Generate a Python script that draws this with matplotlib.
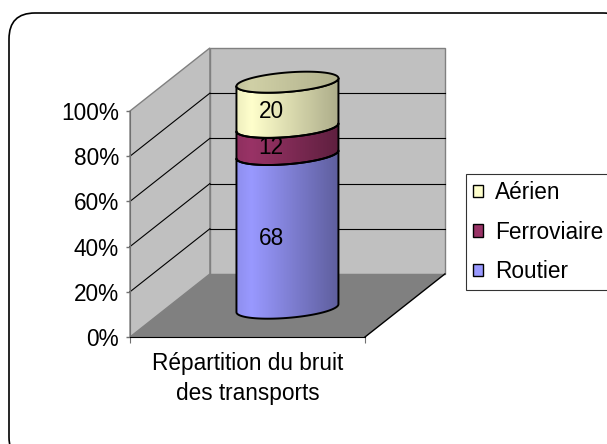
import numpy as np
import matplotlib
matplotlib.use("Agg")
import matplotlib.pyplot as plt
from matplotlib.patches import Polygon, Rectangle, FancyBboxPatch
from matplotlib.ticker import FuncFormatter
from matplotlib.colors import to_rgb

plt.rcParams['font.family'] = ['Liberation Sans', 'DejaVu Sans']

# data
category = "Répartition du bruit\ndes transports"
series = ['Routier', 'Ferroviaire', 'Aérien']
values = [68, 12, 20]
colors = ['#9999ff', '#993366', '#ffffcc']
yticks = [0, 20, 40, 60, 80, 100]

FS = 16.3

fig = plt.figure(figsize=(6.07, 4.44), dpi=100)

# background with rounded frame (pixel coords)
bg = fig.add_axes([0, 0, 1, 1])
bg.set_xlim(0, 607)
bg.set_ylim(444, 0)
bg.axis('off')
bg.add_patch(FancyBboxPatch((9, 13), 620, 450,
                            boxstyle="round,pad=0,rounding_size=26",
                            fc='white', ec='black', lw=1.2))

# main axes: front plane of the 3d box
ax = fig.add_axes([130 / 607, (444 - 337) / 444, 235 / 607, 226 / 444])
ax.set_facecolor('none')
ax.set_xlim(0, 1)
ax.set_ylim(0, 100)

# depth offset of the box (axes data units)
ddx, ddy = 0.34, 27.9
wall = '#c0c0c0'
edge = '#808080'

# walls and floor
ax.add_patch(Polygon([(0, 0), (0, 100), (ddx, 100 + ddy), (ddx, ddy)],
                     closed=True, fc=wall, ec=edge, lw=1, clip_on=False, zorder=0))
ax.add_patch(Polygon([(ddx, ddy), (1 + ddx, ddy), (1 + ddx, 100 + ddy), (ddx, 100 + ddy)],
                     closed=True, fc=wall, ec=edge, lw=1, clip_on=False, zorder=0))
ax.add_patch(Polygon([(0, 0), (1, 0), (1 + ddx, ddy), (ddx, ddy)],
                     closed=True, fc='#808080', ec='none', lw=0, clip_on=False, zorder=0.5))
ax.plot([1, 1 + ddx], [0, ddy], color='black', lw=1, clip_on=False, zorder=0.6)

# gridlines on the back and side walls
for v in yticks[1:-1]:
    ax.plot([ddx, 1 + ddx], [v + ddy, v + ddy], color='black', lw=0.8, clip_on=False, zorder=0.6)
    ax.plot([0, ddx], [v, v + ddy], color='black', lw=0.8, clip_on=False, zorder=0.6)

# cylinder geometry
cx = 0.5 + ddx / 2
a = 0.217
b = 4.3
tilt = 1.77
drop = 1.2


def arc(v, t0, t1, n=60):
    th = np.linspace(t0, t1, n)
    return np.column_stack([cx + a * np.cos(th),
                            v + ddy / 2 - drop + b * np.sin(th) + tilt * np.cos(th)])


def shade(c, n=200, lo=0.62):
    c = np.array(to_rgb(c))
    t = np.linspace(0, 1, n)
    f = np.interp(t, [0, 0.15, 1], [0.93, 1.0, lo])
    return (c[None, :] * f[:, None])[None, :, :]


bottoms = np.concatenate([[0], np.cumsum(values)[:-1]])
tops = np.cumsum(values)
for lo_v, hi_v, col in zip(bottoms, tops, colors):
    pts = np.vstack([arc(lo_v, np.pi, 2 * np.pi), arc(hi_v, 2 * np.pi, np.pi)])
    poly = Polygon(pts, closed=True, fc='none', ec='black', lw=1.4,
                   clip_on=False, zorder=3, joinstyle='round')
    ax.add_patch(poly)
    im = ax.imshow(shade(col, lo=0.62 if col != '#ffffcc' else 0.68), aspect='auto',
                   extent=[cx - a, cx + a, pts[:, 1].min(), pts[:, 1].max()],
                   origin='lower', zorder=2, interpolation='bilinear')
    im.set_clip_box(fig.bbox)
    im.set_clip_path(poly)

# top face
top_pts = arc(tops[-1], 0, 2 * np.pi, 120)
top = Polygon(top_pts, closed=True, fc='none', ec='black', lw=1.4,
              clip_on=False, zorder=3.5)
ax.add_patch(top)
im = ax.imshow(shade('#d0d0a6', lo=0.85), aspect='auto',
               extent=[cx - a, cx + a, top_pts[:, 1].min(), top_pts[:, 1].max()],
               origin='lower', zorder=3.2, interpolation='bilinear')
im.set_clip_box(fig.bbox)
im.set_clip_path(top)

# data labels
for lo_v, hi_v, v in zip(bottoms, tops, values):
    ax.text(cx - 0.07, (lo_v + hi_v) / 2 + ddy / 2 - b, str(v), ha='center', va='center',
            fontsize=FS, zorder=5)

ax.set_xlim(0, 1)
ax.set_ylim(0, 100)

# axes
for s in ['top', 'right']:
    ax.spines[s].set_visible(False)
ax.spines['left'].set_color('#707070')
ax.spines['bottom'].set_color('black')
ax.spines['left'].set_zorder(1)
ax.set_yticks(yticks)
ax.yaxis.set_major_formatter(FuncFormatter(lambda v, p: f"{v:.0f}%"))
ax.tick_params(axis='y', direction='out', length=3, width=1, color='#707070',
               labelsize=FS, pad=5)
ax.set_xticks([0, 1])
ax.set_xticklabels(['', ''])
ax.set_xticks([0.5], minor=True)
ax.set_xticklabels([category], minor=True, fontsize=FS, linespacing=1.4)
ax.tick_params(axis='x', which='major', direction='out', length=4, color='#707070')
ax.tick_params(axis='x', which='minor', length=0, pad=11)

# legend
handles = [Rectangle((0, 0), 1, 1, fc=c, ec='black', lw=1) for c in colors[::-1]]
leg = fig.legend(handles, series[::-1], loc='upper left',
                 bbox_to_anchor=(466 / 607, 1 - 174 / 444), borderaxespad=0,
                 fontsize=FS, frameon=True, fancybox=False, shadow=False,
                 handlelength=0.45, handleheight=0.45, handletextpad=0.5,
                 labelspacing=0.72, borderpad=0.32)
leg.get_frame().set_edgecolor('black')
leg.get_frame().set_linewidth(0.8)

fig.savefig('out.png', dpi=100)
